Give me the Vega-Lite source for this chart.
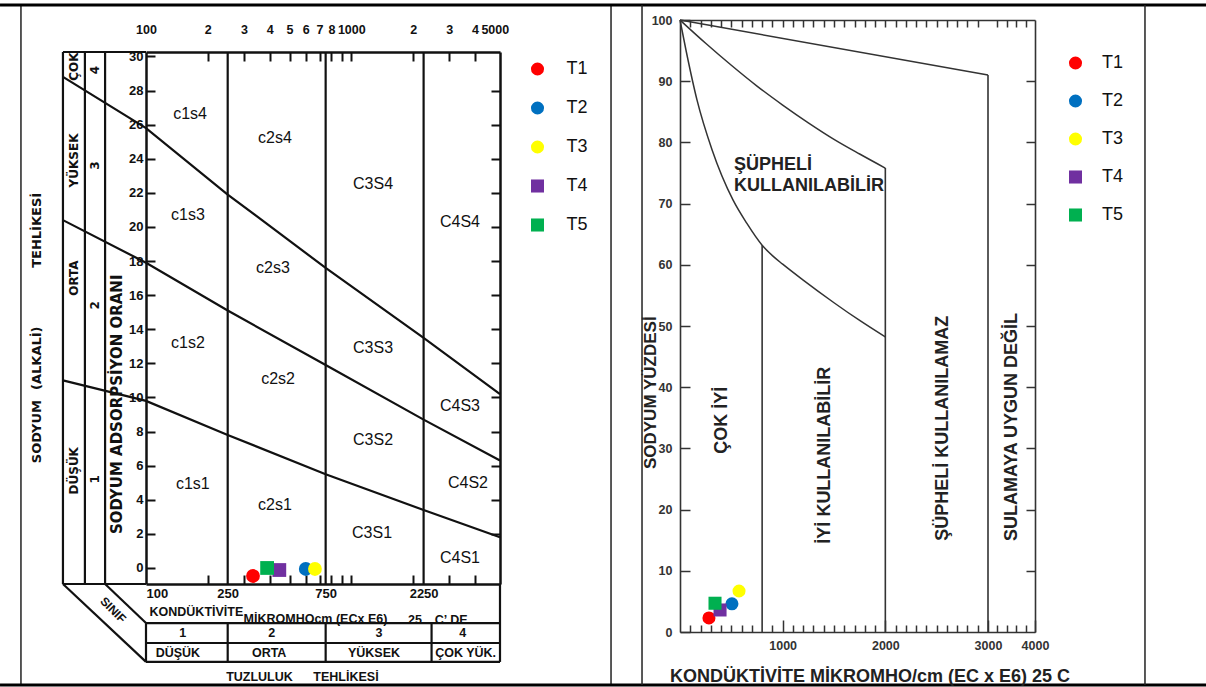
{
"$schema": "https://vega.github.io/schema/vega-lite/v6.json",
"width": 1206, "height": 687,
"autosize": {"type": "none"},
"padding": 0,
"background": "#ffffff",
"config": {"view": {"stroke": null}, "axis": {"grid": false}},
"datasets": {
 "lrules": [
  {"x":39.4,"x2":39.4,"y":-0.94,"y2":30.26},
  {"x":50.4,"x2":50.4,"y":-0.94,"y2":30.26},
  {"x":63.2,"x2":63.2,"y":-0.94,"y2":30.26},
  {"x":39.4,"x2":100,"y":30.26,"y2":30.26},
  {"x":39.4,"x2":100,"y":-0.94,"y2":-0.94},
  {"x":39.4,"x2":100,"y":-0.94,"y2":-5.51},
  {"x":63.2,"x2":100,"y":-0.94,"y2":-3.23},
  {"x":100,"x2":100,"y":-3.23,"y2":-5.51},
  {"x":5300,"x2":5300,"y":-0.94,"y2":-5.51},
  {"x":100,"x2":5300,"y":-3.23,"y2":-3.23},
  {"x":100,"x2":5300,"y":-4.40,"y2":-4.40},
  {"x":100,"x2":5300,"y":-5.51,"y2":-5.51},
  {"x":250,"x2":250,"y":-3.23,"y2":-5.51},
  {"x":750,"x2":750,"y":-3.23,"y2":-5.51},
  {"x":2460,"x2":2460,"y":-3.23,"y2":-5.51}
 ],
 "lborder": [
  {"x":24.6,"x2":24.6,"y":33.02,"y2":-6.86},
  {"x":18410,"x2":18410,"y":33.02,"y2":-6.86}
 ],
 "lborderthick": [
  {"x":19.45,"x2":14560000,"y":33.02,"y2":33.02},
  {"x":19.45,"x2":14560000,"y":-6.86,"y2":-6.86}
 ],
 "lvert": [
  {"ec":250,"s0":-0.94,"s1":30.26},
  {"ec":750,"s0":-0.94,"s1":30.26},
  {"ec":2250,"s0":-0.94,"s1":30.26}
 ],
 "ldiag": [
  {"id":"s12","ec":39.4,"sar":11.0},{"id":"s12","ec":100,"sar":9.8},{"id":"s12","ec":250,"sar":7.8},{"id":"s12","ec":750,"sar":5.5},{"id":"s12","ec":2250,"sar":3.4},{"id":"s12","ec":5300,"sar":1.8},
  {"id":"s23","ec":39.4,"sar":20.4},{"id":"s23","ec":100,"sar":17.9},{"id":"s23","ec":250,"sar":15.1},{"id":"s23","ec":750,"sar":11.9},{"id":"s23","ec":2250,"sar":8.7},{"id":"s23","ec":5300,"sar":6.3},
  {"id":"s34","ec":39.4,"sar":28.8},{"id":"s34","ec":100,"sar":25.8},{"id":"s34","ec":250,"sar":21.9},{"id":"s34","ec":750,"sar":17.6},{"id":"s34","ec":2250,"sar":13.5},{"id":"s34","ec":5300,"sar":10.2}
 ],
 "lregion": [
  {"t":"c1s4","ec":164,"sar":26.6},{"t":"c2s4","ec":425,"sar":25.2},{"t":"C3S4","ec":1276,"sar":22.5},{"t":"C4S4","ec":3384,"sar":20.3},
  {"t":"c1s3","ec":160,"sar":20.7},{"t":"c2s3","ec":415,"sar":17.6},{"t":"c1s2","ec":160,"sar":13.2},{"t":"C3S3","ec":1276,"sar":12.9},
  {"t":"c2s2","ec":440,"sar":11.1},{"t":"C4S3","ec":3384,"sar":9.5},{"t":"C3S2","ec":1276,"sar":7.5},{"t":"c1s1","ec":169,"sar":4.9},
  {"t":"C4S2","ec":3702,"sar":5.0},{"t":"c2s1","ec":425,"sar":3.7},{"t":"C3S1","ec":1262,"sar":2.05},{"t":"C4S1","ec":3384,"sar":0.6}
 ],
 "lside": [
  {"t":"ÇOK","ec":44.6,"sar":29.4},{"t":"YÜKSEK","ec":44.6,"sar":23.9},{"t":"ORTA","ec":44.6,"sar":17.0},{"t":"DÜŞÜK","ec":44.6,"sar":5.7},
  {"t":"4","ec":56.4,"sar":29.2},{"t":"3","ec":56.4,"sar":23.6},{"t":"2","ec":56.4,"sar":15.4},{"t":"1","ec":56.4,"sar":5.2}
 ],
 "lsar": [
  {"t":"SODYUM ADSORPSİYON ORANI","ec":72.2,"sar":9.6}
 ],
 "lsidetitles": [
  {"t":"SODYUM","ec":29.4,"sar":8.0},
  {"t":"(ALKALİ)","ec":29.4,"sar":12.3},
  {"t":"TEHLİKESİ","ec":29.4,"sar":19.8}
 ],
 "ltable": [
  {"t":"1","ec":151,"sar":-3.81},{"t":"2","ec":410,"sar":-3.81},{"t":"3","ec":1364,"sar":-3.81},{"t":"4","ec":3490,"sar":-3.81},
  {"t":"DÜŞÜK","ec":143,"sar":-5.0},{"t":"ORTA","ec":398,"sar":-5.0},{"t":"YÜKSEK","ec":1290,"sar":-5.0},{"t":"ÇOK YÜK.","ec":3605,"sar":-5.0},
  {"t":"TUZLULUK","ec":357,"sar":-6.39},{"t":"TEHLİKESİ","ec":942,"sar":-6.39},
  {"t":"KONDÜKTİVİTE","ec":176,"sar":-2.58},{"t":"MİKROMHOcm (ECx E6)","ec":669,"sar":-2.99},
  {"t":"25","ec":2044,"sar":-3.05},{"t":"C’","ec":2735,"sar":-3.05},{"t":"DE","ec":3347,"sar":-3.05}
 ],
 "lsinif": [{"t":"SINIF","ec":69.1,"sar":-2.46}],
 "lpts": [
  {"sample":"T1","ec":332,"sar":-0.47},
  {"sample":"T2","ec":600,"sar":-0.06},
  {"sample":"T3","ec":665,"sar":-0.06},
  {"sample":"T4","ec":446,"sar":-0.12},
  {"sample":"T5","ec":389,"sar":0.0}
 ],
 "rvert": [
  {"ec":800,"n0":0,"n1":63.2},{"ec":2000,"n0":0,"n1":75.8},{"ec":3000,"n0":0,"n1":91}
 ],
 "rcurves": [
  {"id":"top","ec":0,"na":100},{"id":"top","ec":3000,"na":91},
  {"id":"mid","ec":0,"na":100},{"id":"mid","ec":250,"na":96.2},{"id":"mid","ec":500,"na":92.6},{"id":"mid","ec":750,"na":89.2},{"id":"mid","ec":1000,"na":86.1},{"id":"mid","ec":1250,"na":83.2},{"id":"mid","ec":1500,"na":80.5},{"id":"mid","ec":1750,"na":78.1},{"id":"mid","ec":2000,"na":75.8},
  {"id":"low","ec":0,"na":100},{"id":"low","ec":58,"na":95.1},{"id":"low","ec":166,"na":86.9},{"id":"low","ec":312,"na":78.8},{"id":"low","ec":516,"na":70.6},{"id":"low","ec":650,"na":66.8},{"id":"low","ec":800,"na":63.2},{"id":"low","ec":900,"na":61.5},{"id":"low","ec":1000,"na":60.1},{"id":"low","ec":1200,"na":57.5},{"id":"low","ec":1500,"na":53.8},{"id":"low","ec":1750,"na":50.9},{"id":"low","ec":2000,"na":48.2}
 ],
 "rtexth": [
  {"t":"ŞÜPHELİ","ec":526,"na":76.3},{"t":"KULLANILABİLİR","ec":526,"na":72.9}
 ],
 "rtextv": [
  {"t":"ÇOK İYİ","ec":409,"na":34.6},{"t":"İYİ KULLANILABİLİR","ec":1412,"na":28.9},
  {"t":"ŞÜPHELİ KULLANILAMAZ","ec":2562,"na":33.3},{"t":"SULAMAYA UYGUN DEĞİL","ec":3511,"na":33.5}
 ],
 "rytitle": [{"t":"SODYUM YÜZDESİ","ec":-282,"na":39.1}],
 "rxtitle": [{"t":"KONDÜKTİVİTE MİKROMHO/cm (EC x E6) 25 C","ec":1851,"na":-7.35}],
 "rborder": [
  {"x":-370,"x2":-370,"y":102.45,"y2":-8.66},
  {"x":6340,"x2":6340,"y":102.45,"y2":-8.66}
 ],
 "rpts": [
  {"sample":"T1","ec":282,"na":2.3},
  {"sample":"T2","ec":506,"na":4.6},
  {"sample":"T3","ec":575,"na":6.7},
  {"sample":"T4","ec":390,"na":3.6},
  {"sample":"T5","ec":341,"na":4.7}
 ]
},
"layer": [
 {
  "resolve": {"axis": {"x": "independent", "y": "independent"}},
  "layer": [
   {"data": {"name": "lrules"}, "mark": {"type": "rule", "color": "#111", "strokeWidth": 2.2},
    "encoding": {
     "x": {"field": "x", "type": "quantitative", "scale": {"type": "log", "domain": [100, 5300], "range": [146, 500], "nice": false}, "axis": null},
     "x2": {"field": "x2"},
     "y": {"field": "y", "type": "quantitative", "scale": {"type": "linear", "domain": [-0.94, 30.26], "range": [584, 52], "nice": false, "zero": false}, "axis": null},
     "y2": {"field": "y2"}}},
   {"data": {"name": "lborder"}, "mark": {"type": "rule", "color": "#222", "strokeWidth": 1.5},
    "encoding": {
     "x": {"field": "x", "type": "quantitative", "scale": {"type": "log", "domain": [100, 5300], "range": [146, 500], "nice": false}, "axis": null},
     "x2": {"field": "x2"},
     "y": {"field": "y", "type": "quantitative", "scale": {"type": "linear", "domain": [-0.94, 30.26], "range": [584, 52], "nice": false, "zero": false}, "axis": null},
     "y2": {"field": "y2"}}},
   {"data": {"name": "lborderthick"}, "mark": {"type": "rule", "color": "#000", "strokeWidth": 3},
    "encoding": {
     "x": {"field": "x", "type": "quantitative", "scale": {"type": "log", "domain": [100, 5300], "range": [146, 500], "nice": false}, "axis": null},
     "x2": {"field": "x2"},
     "y": {"field": "y", "type": "quantitative", "scale": {"type": "linear", "domain": [-0.94, 30.26], "range": [584, 52], "nice": false, "zero": false}, "axis": null},
     "y2": {"field": "y2"}}},
   {"data": {"name": "lvert"}, "mark": {"type": "rule", "color": "#111", "strokeWidth": 2.2},
    "encoding": {
     "x": {"field": "ec", "type": "quantitative", "scale": {"type": "log", "domain": [100, 5300], "range": [146, 500], "nice": false},
      "axis": {"orient": "bottom", "offset": -103, "values": [100, 250, 750, 2250], "format": "d", "ticks": false, "labelPadding": 3,
       "labelFont": "Liberation Sans", "labelFontWeight": "bold", "labelFontSize": 13, "labelColor": "#111",
       "labelAlign": {"condition": {"test": "datum.value == 100", "value": "left"}, "value": "center"},
       "labelFlush": false, "labelOverlap": false, "domain": true, "domainColor": "#111", "domainWidth": 2.5, "grid": false, "title": null}},
     "y": {"field": "s0", "type": "quantitative", "scale": {"type": "linear", "domain": [-0.94, 30.26], "range": [584, 52], "nice": false, "zero": false},
      "axis": {"orient": "left", "offset": -146, "values": [0,2,4,6,8,10,12,14,16,18,20,22,24,26,28,30], "tickSize": -9, "tickWidth": 2, "tickColor": "#111",
       "labelPadding": 12, "labelFont": "Liberation Sans", "labelFontWeight": "bold", "labelFontSize": 13, "labelColor": "#111",
       "labelOverlap": false, "domain": true, "domainColor": "#111", "domainWidth": 2.5, "grid": false, "title": null}},
     "y2": {"field": "s1"}}},
   {"data": {"name": "ldiag"}, "mark": {"type": "line", "color": "#111", "strokeWidth": 2.2},
    "encoding": {
     "x": {"field": "ec", "type": "quantitative", "scale": {"type": "log", "domain": [100, 5300], "range": [146, 500], "nice": false},
      "axis": {"orient": "top", "offset": -52, "values": [100,200,300,400,500,600,700,800,900,1000,2000,3000,4000,5000], "format": "d",
       "labelExpr": "datum.value == 100 || datum.value == 1000 || datum.value == 5000 ? datum.label : datum.value == 900 ? '' : datum.value < 1000 ? '' + (datum.value / 100) : '' + (datum.value / 1000)",
       "tickSize": -9, "tickWidth": 2, "tickColor": "#111",
       "tickOpacity": {"condition": {"test": "datum.value == 100 || datum.value == 5000", "value": 0}, "value": 1},
       "labelPadding": 25, "labelFont": "Liberation Sans", "labelFontWeight": "bold", "labelFontSize": 12.5, "labelColor": "#111",
       "labelOverlap": false, "labelFlush": false, "domain": true, "domainColor": "#111", "domainWidth": 2.5, "grid": false, "title": null}},
     "y": {"field": "sar", "type": "quantitative", "scale": {"type": "linear", "domain": [-0.94, 30.26], "range": [584, 52], "nice": false, "zero": false},
      "axis": {"orient": "right", "offset": -706, "values": [2,4,6,8,10,12,14,16,18,20,22,24,26,28], "tickSize": -9, "tickWidth": 2, "tickColor": "#111",
       "labels": false, "domain": true, "domainColor": "#111", "domainWidth": 2.5, "grid": false, "title": null}},
     "detail": {"field": "id"}}},
   {"data": {"name": "lregion"}, "mark": {"type": "text", "font": "Liberation Sans", "fontSize": 16, "color": "#111"},
    "encoding": {
     "x": {"field": "ec", "type": "quantitative", "scale": {"type": "log", "domain": [100, 5300], "range": [146, 500], "nice": false}, "axis": null},
     "y": {"field": "sar", "type": "quantitative", "scale": {"type": "linear", "domain": [-0.94, 30.26], "range": [584, 52], "nice": false, "zero": false}, "axis": null},
     "text": {"field": "t"}}},
   {"data": {"name": "lside"}, "mark": {"type": "text", "font": "DejaVu Sans", "fontWeight": "bold", "fontSize": 12, "color": "#111", "angle": 270},
    "encoding": {
     "x": {"field": "ec", "type": "quantitative", "scale": {"type": "log", "domain": [100, 5300], "range": [146, 500], "nice": false},
      "axis": {"orient": "bottom", "offset": -103, "values": [200,300,400,500,600,700,800,900,1000,2000,3000,4000], "tickSize": -9, "tickWidth": 2, "tickColor": "#111",
       "labels": false, "domain": false, "grid": false, "title": null}},
     "y": {"field": "sar", "type": "quantitative", "scale": {"type": "linear", "domain": [-0.94, 30.26], "range": [584, 52], "nice": false, "zero": false}, "axis": null},
     "text": {"field": "t"}}},
   {"data": {"name": "lsar"}, "mark": {"type": "text", "font": "DejaVu Sans", "fontWeight": "bold", "fontSize": 15, "color": "#111", "angle": 270},
    "encoding": {
     "x": {"field": "ec", "type": "quantitative", "scale": {"type": "log", "domain": [100, 5300], "range": [146, 500], "nice": false}, "axis": null},
     "y": {"field": "sar", "type": "quantitative", "scale": {"type": "linear", "domain": [-0.94, 30.26], "range": [584, 52], "nice": false, "zero": false}, "axis": null},
     "text": {"field": "t"}}},
   {"data": {"name": "lsidetitles"}, "mark": {"type": "text", "font": "DejaVu Sans", "fontWeight": "bold", "fontSize": 13, "color": "#111", "angle": 270},
    "encoding": {
     "x": {"field": "ec", "type": "quantitative", "scale": {"type": "log", "domain": [100, 5300], "range": [146, 500], "nice": false}, "axis": null},
     "y": {"field": "sar", "type": "quantitative", "scale": {"type": "linear", "domain": [-0.94, 30.26], "range": [584, 52], "nice": false, "zero": false}, "axis": null},
     "text": {"field": "t"}}},
   {"data": {"name": "ltable"}, "mark": {"type": "text", "font": "Liberation Sans", "fontWeight": "bold", "fontSize": 12.5, "color": "#111"},
    "encoding": {
     "x": {"field": "ec", "type": "quantitative", "scale": {"type": "log", "domain": [100, 5300], "range": [146, 500], "nice": false}, "axis": null},
     "y": {"field": "sar", "type": "quantitative", "scale": {"type": "linear", "domain": [-0.94, 30.26], "range": [584, 52], "nice": false, "zero": false}, "axis": null},
     "text": {"field": "t"}}},
   {"data": {"name": "lsinif"}, "mark": {"type": "text", "font": "Liberation Sans", "fontWeight": "bold", "fontSize": 12, "color": "#111", "angle": 45},
    "encoding": {
     "x": {"field": "ec", "type": "quantitative", "scale": {"type": "log", "domain": [100, 5300], "range": [146, 500], "nice": false}, "axis": null},
     "y": {"field": "sar", "type": "quantitative", "scale": {"type": "linear", "domain": [-0.94, 30.26], "range": [584, 52], "nice": false, "zero": false}, "axis": null},
     "text": {"field": "t"}}},
   {"data": {"name": "lpts"}, "mark": {"type": "point", "filled": true, "opacity": 1, "size": 190, "strokeWidth": 0},
    "encoding": {
     "x": {"field": "ec", "type": "quantitative", "scale": {"type": "log", "domain": [100, 5300], "range": [146, 500], "nice": false}, "axis": null},
     "y": {"field": "sar", "type": "quantitative", "scale": {"type": "linear", "domain": [-0.94, 30.26], "range": [584, 52], "nice": false, "zero": false}, "axis": null},
     "color": {"field": "sample", "type": "nominal", "scale": {"domain": ["T1","T2","T3","T4","T5"], "range": ["#ff0000","#0070c0","#ffff00","#7030a0","#00b050"]},
      "legend": {"orient": "none", "legendX": 528.5, "legendY": 60, "title": null, "symbolSize": 170, "symbolStrokeWidth": 0, "labelFont": "Liberation Sans", "labelFontSize": 18, "labelColor": "#111", "rowPadding": 21, "labelOffset": 20, "padding": 0}},
     "shape": {"field": "sample", "type": "nominal", "scale": {"domain": ["T1","T2","T3","T4","T5"], "range": ["circle","circle","circle","square","square"]},
      "legend": {"orient": "none", "legendX": 528.5, "legendY": 60, "title": null, "symbolSize": 170, "symbolStrokeWidth": 0, "labelFont": "Liberation Sans", "labelFontSize": 18, "labelColor": "#111", "rowPadding": 21, "labelOffset": 20, "padding": 0}}}}
  ]
 },
 {
  "resolve": {"axis": {"x": "independent", "y": "independent"}},
  "layer": [
   {"data": {"name": "rborder"}, "mark": {"type": "rule", "color": "#222", "strokeWidth": 1.5},
    "encoding": {
     "x": {"field": "x", "type": "quantitative", "scale": {"type": "linear", "domain": [0, 3000, 4000], "range": [680, 988, 1035], "nice": false, "zero": false}, "axis": null},
     "x2": {"field": "x2"},
     "y": {"field": "y", "type": "quantitative", "scale": {"type": "linear", "domain": [0, 100], "range": [632, 20], "nice": false, "zero": false}, "axis": null},
     "y2": {"field": "y2"}}},
   {"data": {"name": "rvert"}, "mark": {"type": "rule", "color": "#333", "strokeWidth": 1.6},
    "encoding": {
     "x": {"field": "ec", "type": "quantitative", "scale": {"type": "linear", "domain": [0, 3000, 4000], "range": [680, 988, 1035], "nice": false, "zero": false},
      "axis": {"orient": "bottom", "offset": -55, "values": [1000, 2000, 3000, 4000], "format": "d", "tickSize": -12, "tickWidth": 1.5, "tickColor": "#333",
       "labelPadding": 19, "labelFont": "Liberation Sans", "labelFontWeight": "bold", "labelFontSize": 12.5, "labelColor": "#333",
       "labelOverlap": false, "labelFlush": false, "domain": true, "domainColor": "#333", "domainWidth": 1.6, "grid": false, "title": null}},
     "y": {"field": "n0", "type": "quantitative", "scale": {"type": "linear", "domain": [0, 100], "range": [632, 20], "nice": false, "zero": false},
      "axis": {"orient": "left", "offset": -680, "values": [0,10,20,30,40,50,60,70,80,90,100], "tickSize": -10, "tickWidth": 1.5, "tickColor": "#333",
       "labelPadding": 18, "labelFont": "Liberation Sans", "labelFontWeight": "bold", "labelFontSize": 12.5, "labelColor": "#333",
       "labelOverlap": false, "domain": true, "domainColor": "#333", "domainWidth": 1.6, "grid": false, "title": null}},
     "y2": {"field": "n1"}}},
   {"data": {"name": "rcurves"}, "mark": {"type": "line", "color": "#333", "strokeWidth": 1.5, "interpolate": "monotone"},
    "encoding": {
     "x": {"field": "ec", "type": "quantitative", "scale": {"type": "linear", "domain": [0, 3000, 4000], "range": [680, 988, 1035], "nice": false, "zero": false},
      "axis": {"orient": "top", "offset": -20, "values": [100,200,300,400,500,600,700,800,900,1000,1100,1200,1300,1400,1500,1600,1700,1800,1900,2000,2100,2200,2300,2400,2500,2600,2700,2800,2900,3200,3400,3600,3800],
       "tickSize": -7, "tickWidth": 1.5, "tickColor": "#333", "labels": false, "domain": true, "domainColor": "#333", "domainWidth": 1.6, "grid": false, "title": null}},
     "y": {"field": "na", "type": "quantitative", "scale": {"type": "linear", "domain": [0, 100], "range": [632, 20], "nice": false, "zero": false},
      "axis": {"orient": "right", "offset": -171, "values": [10,20,30,40,50,60,70,80,90], "tickSize": -9, "tickWidth": 1.5, "tickColor": "#333",
       "labels": false, "domain": true, "domainColor": "#333", "domainWidth": 1.6, "grid": false, "title": null}},
     "detail": {"field": "id"}}},
   {"data": {"name": "rtexth"}, "mark": {"type": "text", "font": "Liberation Sans", "fontWeight": "bold", "fontSize": 18, "color": "#222", "align": "left"},
    "encoding": {
     "x": {"field": "ec", "type": "quantitative", "scale": {"type": "linear", "domain": [0, 3000, 4000], "range": [680, 988, 1035], "nice": false, "zero": false},
      "axis": {"orient": "bottom", "offset": -55, "values": [100,200,300,400,500,600,700,900,1100,1200,1300,1400,1500,1600,1700,1800,1900,2100,2200,2300,2400,2500,2600,2700,2800,2900,3200,3400,3600,3800],
       "tickSize": -7, "tickWidth": 1.5, "tickColor": "#333", "labels": false, "domain": false, "grid": false, "title": null}},
     "y": {"field": "na", "type": "quantitative", "scale": {"type": "linear", "domain": [0, 100], "range": [632, 20], "nice": false, "zero": false}, "axis": null},
     "text": {"field": "t"}}},
   {"data": {"name": "rtextv"}, "mark": {"type": "text", "font": "Liberation Sans", "fontWeight": "bold", "fontSize": 18, "color": "#222", "angle": 270},
    "encoding": {
     "x": {"field": "ec", "type": "quantitative", "scale": {"type": "linear", "domain": [0, 3000, 4000], "range": [680, 988, 1035], "nice": false, "zero": false}, "axis": null},
     "y": {"field": "na", "type": "quantitative", "scale": {"type": "linear", "domain": [0, 100], "range": [632, 20], "nice": false, "zero": false}, "axis": null},
     "text": {"field": "t"}}},
   {"data": {"name": "rytitle"}, "mark": {"type": "text", "font": "Liberation Sans", "fontWeight": "bold", "fontSize": 17, "color": "#222", "angle": 270},
    "encoding": {
     "x": {"field": "ec", "type": "quantitative", "scale": {"type": "linear", "domain": [0, 3000, 4000], "range": [680, 988, 1035], "nice": false, "zero": false}, "axis": null},
     "y": {"field": "na", "type": "quantitative", "scale": {"type": "linear", "domain": [0, 100], "range": [632, 20], "nice": false, "zero": false}, "axis": null},
     "text": {"field": "t"}}},
   {"data": {"name": "rxtitle"}, "mark": {"type": "text", "font": "Liberation Sans", "fontWeight": "bold", "fontSize": 18, "color": "#222"},
    "encoding": {
     "x": {"field": "ec", "type": "quantitative", "scale": {"type": "linear", "domain": [0, 3000, 4000], "range": [680, 988, 1035], "nice": false, "zero": false}, "axis": null},
     "y": {"field": "na", "type": "quantitative", "scale": {"type": "linear", "domain": [0, 100], "range": [632, 20], "nice": false, "zero": false}, "axis": null},
     "text": {"field": "t"}}},
   {"data": {"name": "rpts"}, "mark": {"type": "point", "filled": true, "opacity": 1, "size": 170, "strokeWidth": 0},
    "encoding": {
     "x": {"field": "ec", "type": "quantitative", "scale": {"type": "linear", "domain": [0, 3000, 4000], "range": [680, 988, 1035], "nice": false, "zero": false}, "axis": null},
     "y": {"field": "na", "type": "quantitative", "scale": {"type": "linear", "domain": [0, 100], "range": [632, 20], "nice": false, "zero": false}, "axis": null},
     "color": {"field": "sample", "type": "nominal", "scale": {"domain": ["T1","T2","T3","T4","T5"], "range": ["#ff0000","#0070c0","#ffff00","#7030a0","#00b050"]},
      "legend": {"orient": "none", "legendX": 1066.5, "legendY": 54, "title": null, "symbolSize": 170, "symbolStrokeWidth": 0, "labelFont": "Liberation Sans", "labelFontSize": 18, "labelColor": "#111", "rowPadding": 20, "labelOffset": 17.5, "padding": 0}},
     "shape": {"field": "sample", "type": "nominal", "scale": {"domain": ["T1","T2","T3","T4","T5"], "range": ["circle","circle","circle","square","square"]},
      "legend": {"orient": "none", "legendX": 1066.5, "legendY": 54, "title": null, "symbolSize": 170, "symbolStrokeWidth": 0, "labelFont": "Liberation Sans", "labelFontSize": 18, "labelColor": "#111", "rowPadding": 20, "labelOffset": 17.5, "padding": 0}}}}
  ]
 }
],
"resolve": {"scale": {"x": "independent", "y": "independent", "color": "independent", "shape": "independent"}}
}
